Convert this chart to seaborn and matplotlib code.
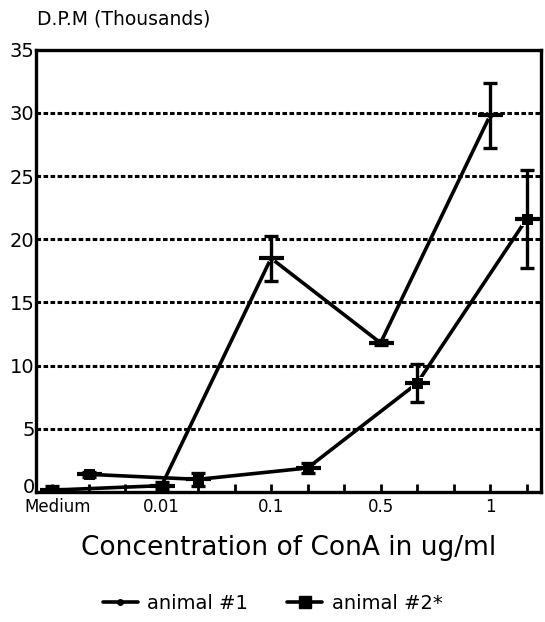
import matplotlib
matplotlib.use("Agg")
import matplotlib.pyplot as plt
import matplotlib.transforms as mtransforms
import seaborn as sns
import pandas as pd
import numpy as np
from matplotlib.lines import Line2D

categories = ["Medium", "0.01", "0.1", "0.5", "1"]
animal1 = [0.15, 0.5, 18.5, 11.8, 29.8]
animal1_err = [0.3, 0.3, 1.8, 0.2, 2.6]
animal2 = [1.4, 1.0, 1.9, 8.6, 21.6]
animal2_err = [0.2, 0.5, 0.4, 1.5, 3.9]
series_names = ["animal #1", "animal #2*"]

sns.set_style("white")
plt.rcParams['font.family'] = ['DejaVu Sans']
plt.rcParams['text.color'] = 'black'
plt.rcParams['xtick.color'] = 'black'
plt.rcParams['ytick.color'] = 'black'
plt.rcParams['axes.labelcolor'] = 'black'

idx = np.arange(len(categories))
pos1 = idx * 3
pos2 = idx * 3 + 1

df = pd.DataFrame({
    "x": np.concatenate([pos1, pos2]),
    "y": animal1 + animal2,
    "err": animal1_err + animal2_err,
    "series": [series_names[0]] * 5 + [series_names[1]] * 5,
})

fig = plt.figure(figsize=(5.45, 6.22), dpi=100)
ax = fig.add_axes([0.066, 0.209, 0.927, 0.711])

sns.lineplot(data=df, x="x", y="y", hue="series", style="series",
             palette=["black", "black"], markers=["o", "s"], dashes=False,
             linewidth=2.6, markersize=5, legend=False, ax=ax, sort=False)
ax.lines[1].set_markersize(9)

for name in series_names:
    sub = df[df.series == name]
    ax.errorbar(sub.x, sub.y, yerr=sub.err, fmt="none", ecolor="black",
                elinewidth=2.4, capsize=5, capthick=2.4, zorder=3)
    ax.plot(sub.x, sub.y, linestyle="none", marker="_", markersize=18,
            mew=3, color="black", zorder=4)

ax.set_xlim(-0.44, 13.4)
ax.set_ylim(0, 35)
ax.set_yticks(np.arange(0, 36, 5))
ax.set_yticklabels([str(v) for v in range(0, 36, 5)], fontsize=14)
ax.set_xticks(np.arange(0, 14), minor=True)
ax.set_xticks(pos1)
ax.set_xticklabels(categories, fontsize=12)
ax.tick_params(axis="x", which="both", direction="in", length=6, width=2,
               pad=4, bottom=True)
ax.tick_params(axis="y", length=0, pad=1)

# nudge the "0" label up and "Medium" right so they don't collide
zero_lbl = ax.get_yticklabels()[0]
zero_lbl.set_transform(zero_lbl.get_transform() +
                       mtransforms.ScaledTranslation(0, 5 / 72, fig.dpi_scale_trans))
med_lbl = ax.get_xticklabels()[0]
med_lbl.set_transform(med_lbl.get_transform() +
                      mtransforms.ScaledTranslation(4 / 72, 0, fig.dpi_scale_trans))

for v in range(5, 35, 5):
    ax.axhline(v, color="black", linestyle=(0, (1.5, 0.8)), linewidth=2.2, zorder=1)

for s in ax.spines.values():
    s.set_visible(True)
    s.set_color("black")
    s.set_linewidth(2.4)

ax.set_xlabel("Concentration of ConA in ug/ml", fontsize=19, labelpad=14)
ax.set_ylabel("")
fig.text(0.068, 0.97, "D.P.M (Thousands)", fontsize=13.5, va="center", ha="left")

handles = [
    Line2D([0], [0], color="black", lw=2.6, marker="o", markersize=4),
    Line2D([0], [0], color="black", lw=2.6, marker="s", markersize=8),
]
fig.legend(handles, series_names, loc="center", bbox_to_anchor=(0.5, 0.03),
           ncol=2, frameon=False, fontsize=14, handlelength=1.8,
           columnspacing=2.0, handletextpad=0.5)

fig.savefig("out.png", dpi=100)
